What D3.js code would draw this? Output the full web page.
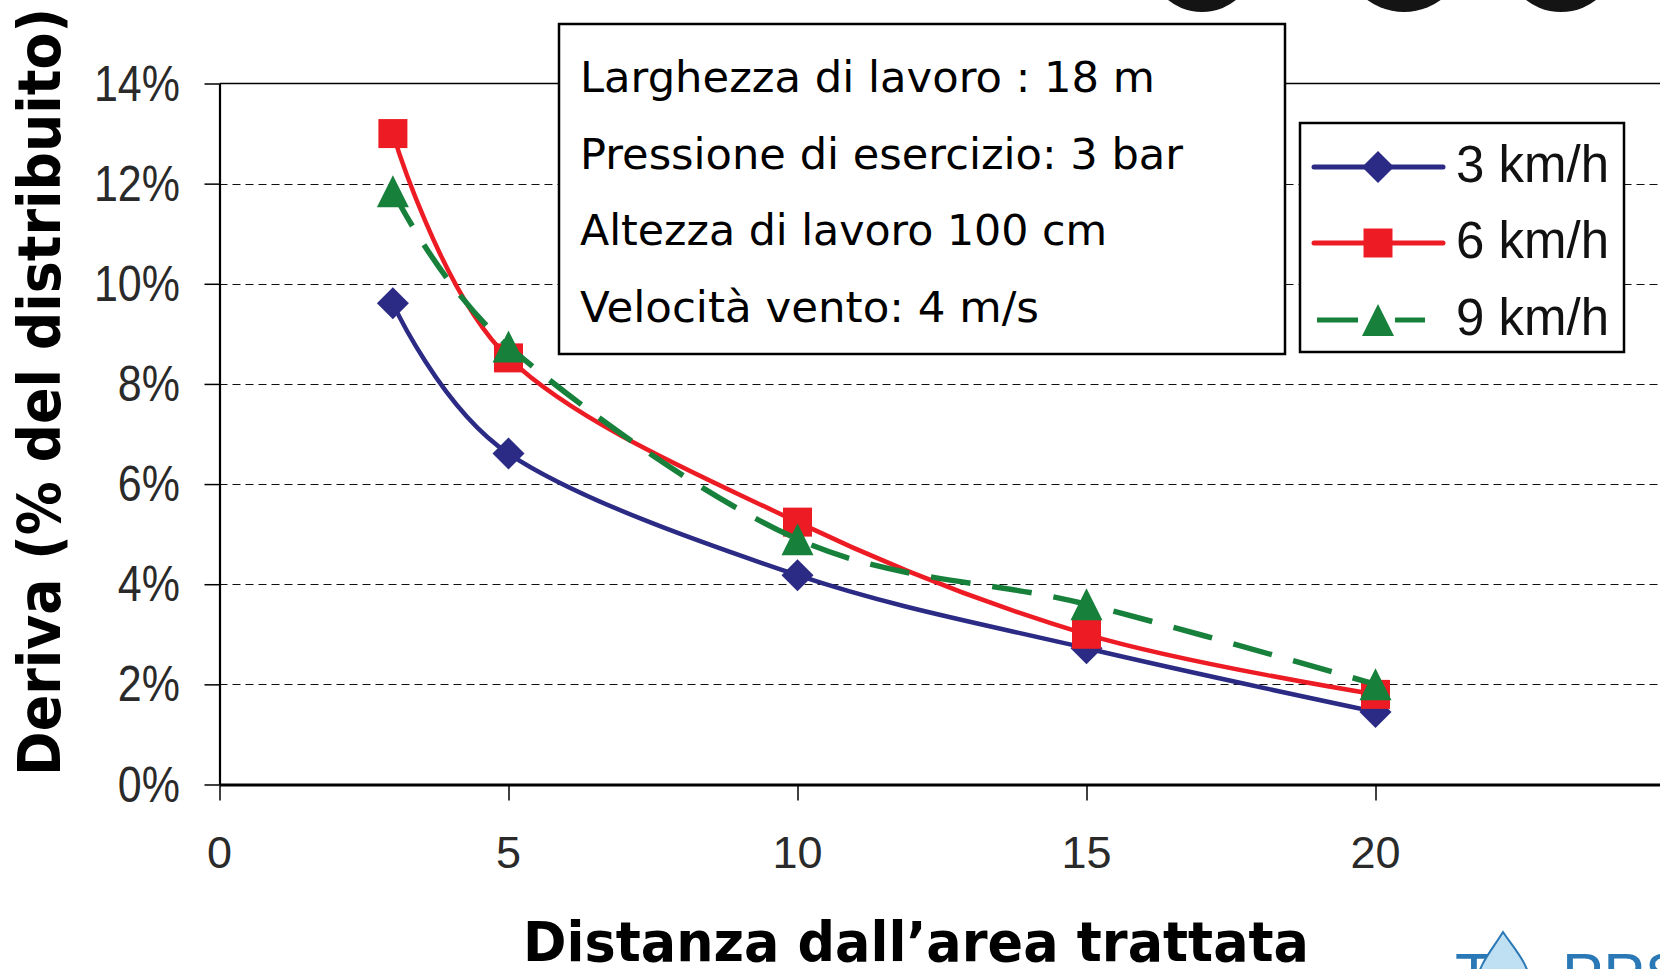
<!DOCTYPE html>
<html><head><meta charset="utf-8">
<script src="https://cdn.jsdelivr.net/npm/d3@7"></script>
<style>html,body{margin:0;padding:0;background:#fff;overflow:hidden}</style>
</head><body>
<svg id="c" width="1660" height="969"></svg>
<script>
// ---- data ----
const distances = [3, 5, 10, 15, 20];
const speed3 = [9.61, 6.61, 4.18, 2.72, 1.45];
const speed6 = [13.0, 8.52, 5.24, 3.0, 1.8];
const speed9 = [11.85, 8.75, 4.9, 3.6, 2.0];
const seriesNames = ["3 km/h", "6 km/h", "9 km/h"];
const xTickValues = [0, 5, 10, 15, 20];
const yTickValues = [0, 2, 4, 6, 8, 10, 12, 14];
const yTickLabels = ["0%", "2%", "4%", "6%", "8%", "10%", "12%", "14%"];
const infoLines = ["Larghezza di lavoro : 18 m", "Pressione di esercizio: 3 bar", "Altezza di lavoro 100 cm", "Velocità vento: 4 m/s"];
const xTitle = "Distanza dall\u2019area trattata";
const yTitle = "Deriva (% del distribuito)";

const svg = d3.select("#c");
const x = d3.scaleLinear().domain([0, 25]).range([219.5, 219.5 + 25 * 57.8]);
const y = d3.scaleLinear().domain([0, 14]).range([784.5, 83.5]);

// decorative circles at top (cut off)
[[1202, -42, 54], [1404, -50, 62], [1561, -45, 57]].forEach(c => {
  svg.append("circle").attr("cx", c[0]).attr("cy", c[1]).attr("r", c[2]).attr("fill", "#141414");
});

// gridlines
svg.append("g").selectAll("line").data(yTickValues.filter(v => v > 0 && v < 14)).join("line")
  .attr("x1", x(0)).attr("x2", x(25)).attr("y1", d => Math.round(y(d)) + 0.5).attr("y2", d => Math.round(y(d)) + 0.5)
  .attr("stroke", "#111").attr("stroke-width", 1.2).attr("stroke-dasharray", "8,5");
// top frame
svg.append("line").attr("x1", x(0)).attr("x2", x(25)).attr("y1", y(14)).attr("y2", y(14))
  .attr("stroke", "#000").attr("stroke-width", 1.6);

// axes
const yAxis = svg.append("g").attr("transform", `translate(${x(0)},0)`)
  .call(d3.axisLeft(y).tickValues(yTickValues).tickSize(15).tickSizeOuter(0).tickFormat(""));
yAxis.select(".domain").attr("stroke", "#000").attr("stroke-width", 2.2);
yAxis.selectAll(".tick line").attr("stroke", "#000").attr("stroke-width", 1.5);
const xAxis = svg.append("g").attr("transform", `translate(0,${y(0)})`)
  .call(d3.axisBottom(x).tickValues(xTickValues).tickSize(16).tickSizeOuter(0).tickFormat(""));
xAxis.select(".domain").attr("stroke", "#000").attr("stroke-width", 3);
xAxis.selectAll(".tick line").attr("stroke", "#000").attr("stroke-width", 1.5);

// tick labels
svg.append("g").selectAll("text").data(yTickValues).join("text")
  .attr("transform", (d) => `translate(180,${y(d) + 17}) scale(1,1.15)`)
  .attr("text-anchor", "end").attr("font-family", "Liberation Sans, Arial, sans-serif")
  .attr("font-size", 43).attr("fill", "#2a2a2a").text((d, i) => yTickLabels[i]);
svg.append("g").selectAll("text").data(xTickValues).join("text")
  .attr("x", d => x(d)).attr("y", 868).attr("text-anchor", "middle")
  .attr("font-family", "Liberation Sans, Arial, sans-serif").attr("font-size", 45).attr("fill", "#2a2a2a")
  .text(d => d);

// axis titles
svg.append("text").attr("transform", "translate(60,392) rotate(-90)")
  .attr("text-anchor", "middle").attr("font-family", "DejaVu Sans, Verdana, sans-serif")
  .attr("font-weight", "bold").attr("font-size", 58)
  .attr("textLength", 768).attr("lengthAdjust", "spacingAndGlyphs").text(yTitle);
svg.append("text").attr("x", 523).attr("y", 961)
  .attr("font-family", "DejaVu Sans, Verdana, sans-serif").attr("font-weight", "bold").attr("font-size", 55)
  .attr("textLength", 786).attr("lengthAdjust", "spacingAndGlyphs").text(xTitle);

// marker shapes
const diamond = { draw(ctx, s) { const r = Math.sqrt(s) / 2; ctx.moveTo(0, -r); ctx.lineTo(r, 0); ctx.lineTo(0, r); ctx.lineTo(-r, 0); ctx.closePath(); } };
const square = { draw(ctx, s) { const r = Math.sqrt(s) / 2; ctx.rect(-r, -r, 2 * r, 2 * r); } };
const triangle = { draw(ctx, s) { const r = Math.sqrt(s) / 2; ctx.moveTo(0, -r); ctx.lineTo(r, r); ctx.lineTo(-r, r); ctx.closePath(); } };

const series = [
  { name: seriesNames[0], vals: speed3, color: "#2b2b85", dash: null, sym: diamond, size: 32 * 32, width: 4.5 },
  { name: seriesNames[1], vals: speed6, color: "#ed1c24", dash: null, sym: square, size: 29 * 29, width: 4.5 },
  { name: seriesNames[2], vals: speed9, color: "#17803b", dash: "40,22", sym: triangle, size: 32 * 32, width: 5.5 }
];

const line = d3.line().x(d => x(d[0])).y(d => y(d[1])).curve(d3.curveCardinal.tension(0));
series.forEach(s => {
  const pts = distances.map((d, i) => [d, s.vals[i]]);
  svg.append("path").datum(pts).attr("d", line).attr("fill", "none")
    .attr("stroke", s.color).attr("stroke-width", s.width).attr("stroke-dasharray", s.dash)
    .attr("stroke-linejoin", "round");
  svg.append("g").selectAll("path").data(pts).join("path")
    .attr("transform", d => `translate(${x(d[0])},${y(d[1])})`)
    .attr("d", d3.symbol().type(s.sym).size(s.size)).attr("fill", s.color);
});

// info box
svg.append("rect").attr("x", 559).attr("y", 24).attr("width", 726).attr("height", 330)
  .attr("fill", "#fff").attr("stroke", "#000").attr("stroke-width", 2.5);
const infoWidths = [575, 603, 527, 459];
svg.append("g").selectAll("text").data(infoLines).join("text")
  .attr("x", 580).attr("y", (d, i) => 92 + i * 76.7)
  .attr("font-family", "DejaVu Sans, Verdana, sans-serif").attr("font-size", 42.5).attr("fill", "#000")
  .attr("textLength", (d, i) => infoWidths[i]).attr("lengthAdjust", "spacingAndGlyphs")
  .text(d => d);

// legend
svg.append("rect").attr("x", 1300).attr("y", 123).attr("width", 324).attr("height", 229)
  .attr("fill", "#fff").attr("stroke", "#000").attr("stroke-width", 2.5);
const legRows = [167, 243, 320];
series.forEach((s, i) => {
  const g = svg.append("g").attr("transform", `translate(0,${legRows[i]})`);
  if (s.dash) {
    g.append("line").attr("x1", 1317).attr("x2", 1358).attr("stroke", s.color).attr("stroke-width", 5);
    g.append("line").attr("x1", 1395).attr("x2", 1425).attr("stroke", s.color).attr("stroke-width", 5);
  } else {
    g.append("line").attr("x1", 1314).attr("x2", 1443).attr("stroke", s.color).attr("stroke-width", 5)
      .attr("stroke-linecap", "round");
  }
  g.append("path").attr("transform", "translate(1378,0)")
    .attr("d", d3.symbol().type(s.sym).size(s.size)).attr("fill", s.color);
  g.append("text").attr("x", 1456).attr("y", 15).attr("font-family", "Liberation Sans, Arial, sans-serif")
    .attr("font-size", 51).attr("fill", "#111").text(s.name);
});

// logo (partially visible)
const logo = svg.append("g").attr("fill", "#2a78b5");
logo.append("text").attr("x", 1455).attr("y", 996).attr("font-family", "Liberation Sans, Arial, sans-serif")
  .attr("font-size", 62).text("T");
logo.append("path").attr("d", "M1503,932 C1515,950 1530,965 1530,985 L1476,985 C1478,965 1492,950 1503,932 Z")
  .attr("fill", "#bfe0f3").attr("stroke", "#2a78b5").attr("stroke-width", 2);
logo.append("text").attr("x", 1562).attr("y", 996).attr("font-family", "Liberation Sans, Arial, sans-serif")
  .attr("font-size", 62).text("PPS");
</script>
</body></html>
